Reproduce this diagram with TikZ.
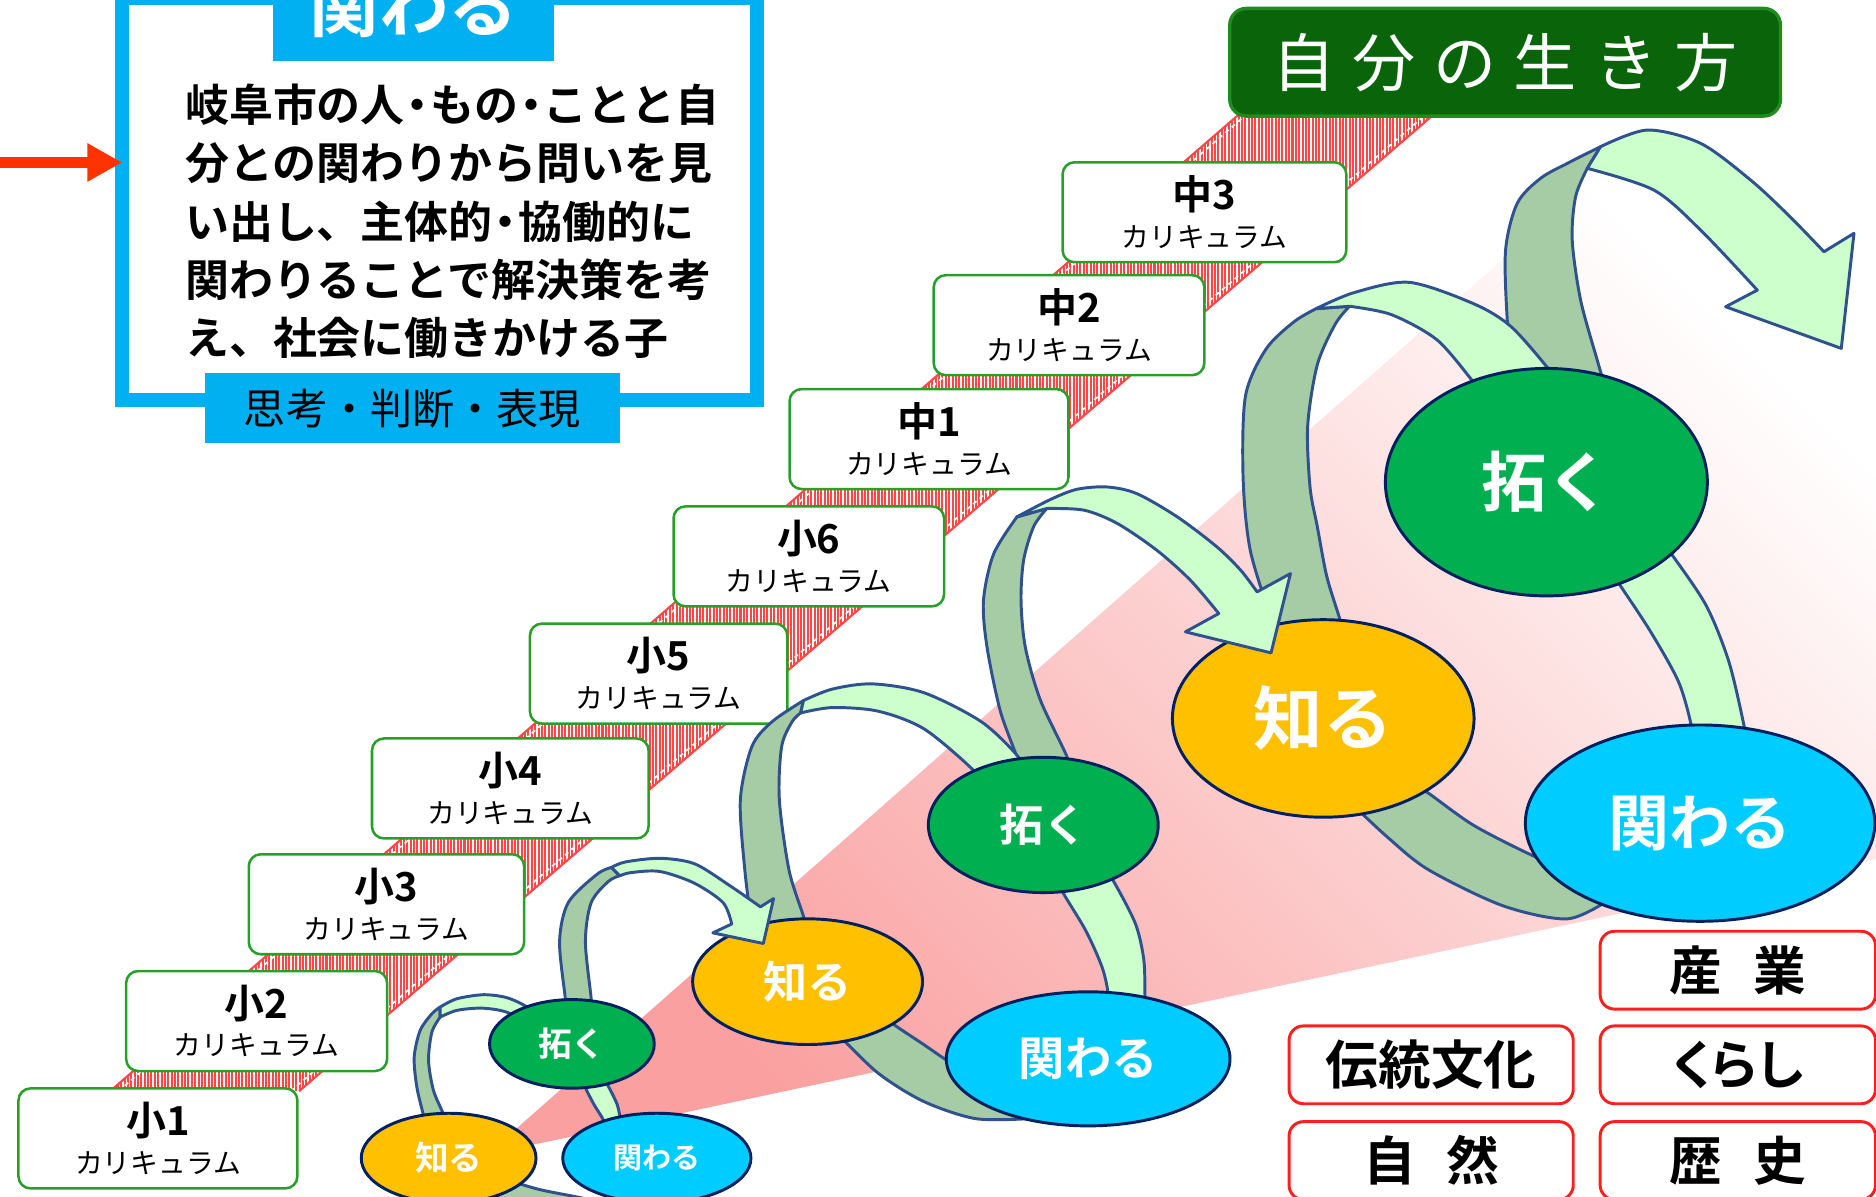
\documentclass[tikz,border=0pt]{standalone}
\usepackage{fontspec}
\newfontfamily\jp{Noto Sans CJK JP}[BoldFont={Noto Sans CJK JP Bold}]
\newfontfamily\jpk{Noto Sans CJK JP}[RawFeature=+palt,BoldFont={Noto Sans CJK JP Bold}]
\usepackage{xcolor}
\definecolor{mycyan}{RGB}{0,176,240}
\definecolor{myred}{RGB}{255,51,0}
\definecolor{mytitle}{RGB}{10,100,10}
\definecolor{mytitleline}{RGB}{30,140,30}
\definecolor{mycurline}{RGB}{40,160,40}
\definecolor{myband}{RGB}{255,70,70}
\definecolor{mypink}{RGB}{250,160,160}
\definecolor{myribl}{RGB}{204,255,204}
\definecolor{myribd}{RGB}{165,204,165}
\definecolor{myribline}{RGB}{47,82,143}
\definecolor{myellline}{RGB}{0,32,96}
\definecolor{myknow}{RGB}{255,192,0}
\definecolor{myopen}{RGB}{0,176,80}
\definecolor{myrel}{RGB}{0,204,255}
\definecolor{myfield}{RGB}{255,30,30}
\usepackage{tikz}
\usetikzlibrary{positioning}
\usetikzlibrary{shapes.geometric, arrows.meta, patterns.meta}
\tikzstyle{goalframe} = [rectangle, draw=mycyan, line width=3.24pt, fill=white, inner sep=0, outer sep=0]
\tikzstyle{goaltag} = [rectangle, fill=mycyan, inner sep=0]
\tikzstyle{lifebox} = [rectangle, rounded corners=0.14cm, draw=mytitleline, line width=0.8pt, fill=mytitle, text=white, minimum width=4.6cm, minimum height=0.9cm]
\tikzstyle{curric} = [rectangle, rounded corners=0.1cm, draw=mycurline, line width=0.6pt, fill=white, minimum height=0.835cm, align=center, inner sep=0, font=\jp\fontsize{9.5pt}{8.9pt}\selectfont]
\tikzstyle{field} = [rectangle, rounded corners=0.12cm, draw=myfield, line width=0.7pt, fill=white, minimum width=2.374cm, minimum height=0.65cm, font=\jp\bfseries\fontsize{12.5pt}{14pt}\selectfont]
\tikzstyle{stage} = [ellipse, draw=myellline, line width=0.7pt, inner sep=0, text=white]
\tikzstyle{know} = [stage, fill=myknow]
\tikzstyle{explore} = [stage, fill=myopen]
\tikzstyle{relate} = [stage, fill=myrel]
\tikzstyle{ribfront} = [fill=myribl, draw=myribline, line width=0.7pt, line join=round]
\tikzstyle{ribback} = [fill=myribd, draw=myribline, line width=0.7pt, line join=round]
\tikzstyle{pointer} = [line width=2.7pt, -{Triangle[length=0.29cm,width=0.3cm]}, myred]
\newcommand{\curlab}[1]{{\bfseries #1}\\{\fontsize{6.6pt}{8.9pt}\selectfont カリキュラム}}
\newcommand{\dotj}{\makebox[0.58em]{・}}
\newcommand{\lsp}{\hspace{0.145cm}}
\begin{document}
\begin{tikzpicture}[x=0.01cm,y=-0.01cm]
	\useasboundingbox (0,0) rectangle (1568,1000);
	\clip (0,0) rectangle (1568,1000);
	% pink fan behind the spirals
	\shade[top color=mypink, bottom color=white, shading angle=135] (407,965) -- (1400,90) -- (1568,90) -- (1568,718) -- cycle;
	% hatched stair band
	\fill[white] (92,912) -- (1053.6,80) -- (1216.6,80) -- (250,912) -- cycle;
	\path[pattern={Lines[angle=90,distance=0.8pt,line width=0.48pt]}, pattern color=myband] (92,912) -- (1053.6,80) -- (1216.6,80) -- (250,912) -- cycle;
	\draw[myband, line width=0.5pt] (92,912) -- (1053.6,80) (1216.6,80) -- (250,912);
	\draw[white, dash pattern=on 1pt off 1pt, line width=0.4pt] (99,912) -- (1060,80) (243,912) -- (1210,80);
	% goal box
	\node[goalframe, minimum width=5.305cm, minimum height=3.359cm] (goal) at (367.55,166.45) {};
	\node[goaltag, minimum width=2.344cm, minimum height=0.91cm, text=white, font=\jp\bfseries\fontsize{16.5pt}{18pt}\selectfont] (goaltop) at (345.8,5.5) {関わる};
	\node[goaltag, minimum width=3.463cm, minimum height=0.586cm, font=\jp\fontsize{10pt}{12pt}\selectfont] (goalbottom) at (344.6,341.3) {思考・判断・表現};
	\node[anchor=west, align=left, inner sep=0, font=\jp\bfseries\fontsize{10.45pt}{13.8pt}\selectfont] (aim) at (154,185) {岐阜市の人\dotj もの\dotj ことと自\\分との関わりから問いを見\\い出し、主体的\dotj 協働的に\\関わりることで解決策を考\\え、社会に働きかける子};
	\coordinate (arrowtail) at (0,135.8);
	\draw[pointer] (arrowtail) -- (arrowtail -| goal.west);
	% title
	\node[lifebox] (life) at (1258,52) {\jp\fontsize{15pt}{17pt}\selectfont 自\lsp 分\lsp の\lsp 生\lsp き\lsp 方};
	% curriculum steps
	\node[curric, minimum width=2.33cm] (e1) at (132,951.5) {\curlab{小1}};
	\node[curric, minimum width=2.18cm] (e2) at (214.5,853.4) {\curlab{小2}};
	\node[curric, minimum width=2.30cm] (e3) at (323,755.8) {\curlab{小3}};
	\node[curric, minimum width=2.31cm] (e4) at (426.5,659) {\curlab{小4}};
	\node[curric, minimum width=2.15cm] (e5) at (550.5,563) {\curlab{小5}};
	\node[curric, minimum width=2.26cm] (e6) at (676,465) {\curlab{小6}};
	\node[curric, minimum width=2.33cm] (j1) at (776.5,367) {\curlab{中1}};
	\node[curric, minimum width=2.26cm] (j2) at (893.5,271.8) {\curlab{中2}};
	\node[curric, minimum width=2.37cm] (j3) at (1006.7,177.4) {\curlab{中3}};
	% fields
	\node[field] (tradition) at (1196.2,890) {伝統文化};
	\node[field, minimum width=2.3cm, right=0.2cm of tradition] (living) {\jpk\bfseries くらし};
	\node[field, minimum width=2.3cm, above=0.116cm of living] (industry) {産\hspace{0.26cm}業};
	\node[field, below=0.125cm of tradition] (nature) {自\hspace{0.26cm}然};
	\node[field, minimum width=2.3cm, below=0.125cm of living] (history) {歴\hspace{0.26cm}史};
	% ribbons underneath
	\filldraw[ribback] plot[smooth] coordinates {(1180,655) (1194,663) (1232,690) (1283,716) (1320,730)} -- plot[smooth] coordinates {(1345,752) (1310,768) (1256,757) (1194,727) (1160,700) (1130,672)} -- cycle;
	\filldraw[ribback] plot[smooth] coordinates {(740,850) (748,857) (772,873) (792,886.5) (810,895)} -- plot[smooth] coordinates {(860,935) (815.5,935) (772,920.6) (734,897) (702,866)} -- cycle;
	\filldraw[ribback] plot[smooth] coordinates {(420,985) (450,994) (480,1000) (510,1006)} -- plot[smooth] coordinates {(510,1030) (460,1022) (415,1005)} -- cycle;
	\filldraw[ribfront] plot[smooth] coordinates {(1390,455) (1397,463) (1426,506) (1445,553) (1458,608) (1460,625)} -- plot[smooth] coordinates {(1415,625) (1414,608) (1403,570) (1379,527) (1352,486) (1346,476)} -- cycle;
	\filldraw[ribfront] plot[smooth] coordinates {(925,730) (931,737) (949,772) (956,802) (957,832) (957,845)} -- plot[smooth] coordinates {(926,845) (926,829) (921,808) (907.6,778) (888.4,746) (886,738)} -- cycle;
	\filldraw[ribfront] plot[smooth] coordinates {(503,900) (507.3,905.8) (515.6,922.5) (518.4,935.1) (519,945)} -- plot[smooth] coordinates {(506,945) (504.5,936.5) (496.1,922.5) (489.1,908.6) (487,900)} -- cycle;
	% large spiral loops
	\filldraw[ribback] plot[smooth] coordinates {(1265,320) (1259.8,267.5) (1258.4,209) (1268.1,170) (1287.7,149) (1312,135.5) (1337.8,122.6)} -- plot[smooth] coordinates {(1326.7,140.7) (1316.9,164.4) (1314.1,200.7) (1321.1,250.8) (1335,301) (1342,325)} -- cycle;
	\filldraw[ribfront] plot[smooth] coordinates {(1337.8,122.6) (1376.8,108.7) (1421.4,119.8) (1463.2,150.5) (1495,180) (1524.5,210.4)} -- (1549.6,195) -- (1539,291.2) -- (1442.3,256.4) -- (1468.8,242.5) -- plot[smooth] coordinates {(1468.8,242.5) (1421.4,192.3) (1382.4,158.9) (1326.7,140.7)} -- cycle;
	\filldraw[ribback] plot[smooth] coordinates {(1068,535) (1064,522) (1045,460) (1039,399) (1041,331) (1058,292) (1081.5,269) (1100,258)} -- plot[smooth] coordinates {(1128,256) (1116,271) (1101,305) (1093,356) (1095,407.5) (1101,440) (1109,482) (1120,518) (1122,530)} -- cycle;
	\filldraw[ribfront] plot[smooth] coordinates {(1100,258) (1132,244.5) (1178,236) (1232,254) (1263,273) (1294,308) (1300,318)} -- plot[smooth] coordinates {(1240,330) (1230.5,318) (1201,284) (1163,263) (1128,256)} -- cycle;
	\node[know, minimum width=2.52cm, minimum height=1.65cm, font=\jp\bfseries\fontsize{16.5pt}{18pt}\selectfont] (k3) at (1106,600.5) {知る};
	% medium spiral loops
	\filldraw[ribback] plot[smooth] coordinates {(852,645) (850,633) (836,594) (825,541) (822,502) (830.5,463) (850,432)} -- plot[smooth] coordinates {(875,425) (864,440) (855.6,468) (853.4,502) (857,541) (869.5,585) (892,633) (892,645)} -- cycle;
	\filldraw[ribfront] plot[smooth] coordinates {(850,432) (877.9,417.5) (900,409) (925,407) (950,412.5) (984,432) (1017,457) (1037,476.6) (1050.7,494.7)} -- (1078.6,479.4) -- (1062.4,545.7) -- (990.8,528.1) -- (1018.7,512.8) -- plot[smooth] coordinates {(1018.7,512.8) (995,485) (967,460) (934,437.6) (906,426.4) (875,425)} -- cycle;
	\filldraw[ribback] plot[smooth] coordinates {(632,782) (628.4,772.3) (622.6,727.8) (618.8,668.5) (628.4,624.1) (645.2,603.3) (671.6,585.5)} -- plot[smooth] coordinates {(669.2,595.9) (662,603.3) (653.3,624.1) (651.4,668.5) (659.6,727.8) (672.5,769.3) (672,782)} -- cycle;
	\filldraw[ribfront] plot[smooth] coordinates {(671.6,585.5) (695.5,576) (729.1,571.6) (772.3,579) (820.3,603.3) (851.4,633) (852,645)} -- plot[smooth] coordinates {(818,655) (813.1,643.3) (772.3,609.2) (733.9,594.4) (695.5,591.4) (669.2,595.9)} -- cycle;
	\node[know, minimum width=1.92cm, minimum height=1.05cm, font=\jp\bfseries\fontsize{10.5pt}{12pt}\selectfont] (k2) at (675,820.5) {知る};
	% small spiral loops
	\filldraw[ribback] plot[smooth] coordinates {(473,845) (472.5,834.6) (467.7,787.1) (474.9,754.5) (498.9,730.8) (511,725)} -- plot[smooth] coordinates {(518,732) (508.5,736.7) (494.1,754.5) (489.3,787.1) (494.1,834.6) (494,845)} -- cycle;
	\filldraw[ribfront] plot[smooth] coordinates {(511,725) (522.9,720.4) (551.6,717.4) (580.4,721.9) (609.2,739.7) (635.6,758)} -- (646.6,751) -- (638,788.6) -- (595.8,779.7) -- (611.6,772.3) -- plot[smooth] coordinates {(611.6,772.3) (604.4,754.5) (580.4,738.2) (551.6,728.4) (527.6,729.3) (518,732)} -- cycle;
	\filldraw[ribback] plot[smooth] coordinates {(356,940) (354,932.3) (348.4,908.6) (346.2,883.5) (351.2,861.2) (361,847.3) (367.9,841.7)} -- plot[smooth] coordinates {(367.9,850.1) (361,862.6) (358.2,886.3) (362.3,911.4) (370.7,931.5) (372,940)} -- cycle;
	\filldraw[ribfront] plot[smooth] coordinates {(367.9,841.7) (381.8,834.8) (404.1,831.4) (423.7,833.9) (440.4,841.7) (445,850)} -- plot[smooth] coordinates {(438,858) (429.2,848.7) (418.1,844.5) (401.4,842.6) (381.8,844.5) (367.9,850.1)} -- cycle;
	% stages
	\node[explore, minimum width=2.69cm, minimum height=1.90cm, font=\jp\bfseries\fontsize{15.5pt}{17pt}\selectfont] (t3) at (1292.5,403) {拓く};
	\node[relate, minimum width=2.92cm, minimum height=1.64cm, font=\jp\bfseries\fontsize{14.5pt}{16pt}\selectfont] (r3) at (1421,688) {関わる};
	\node[explore, minimum width=1.92cm, minimum height=1.13cm, font=\jp\bfseries\fontsize{10.5pt}{12pt}\selectfont] (t2) at (872,689.5) {拓く};
	\node[relate, minimum width=2.37cm, minimum height=1.12cm, font=\jp\bfseries\fontsize{11pt}{12pt}\selectfont] (r2) at (909.5,885) {関わる};
	\node[know, minimum width=1.46cm, minimum height=0.75cm, font=\jp\bfseries\fontsize{8pt}{9pt}\selectfont] (k1) at (375,968) {知る};
	\node[explore, minimum width=1.376cm, minimum height=0.74cm, font=\jp\bfseries\fontsize{8pt}{9pt}\selectfont] (t1) at (478,872.5) {拓く};
	\node[relate, minimum width=1.572cm, minimum height=0.75cm, font=\jp\bfseries\fontsize{6.9pt}{8pt}\selectfont] (r1) at (549,968) {関わる};
\end{tikzpicture}
\end{document}
